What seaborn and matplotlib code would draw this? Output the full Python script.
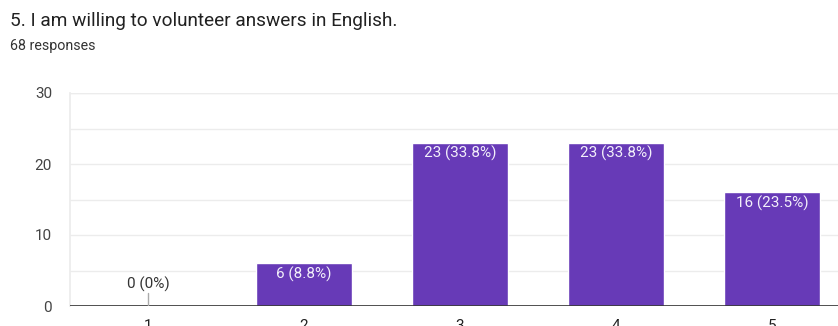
import matplotlib
matplotlib.use("Agg")
import matplotlib.pyplot as plt
import seaborn as sns
import pandas as pd

# Survey results
categories = ["1", "2", "3", "4", "5"]
counts = [0, 6, 23, 23, 16]
percents = ["0%", "8.8%", "33.8%", "33.8%", "23.5%"]
title = "5. I am willing to volunteer answers in English."
subtitle = "68 responses"
y_ticks = [0, 10, 20, 30]

sns.set_theme(style="white")
plt.rcParams["font.family"] = ["Roboto", "DejaVu Sans"]

df = pd.DataFrame({"option": categories, "count": counts})

W, H = 838, 326
fig = plt.figure(figsize=(W / 100, H / 100), dpi=100)
ax = fig.add_axes([70 / W, 20 / H, 780 / W, 213 / H])

sns.barplot(data=df, x="option", y="count", color="#673ab7", width=0.62,
            saturation=1, ax=ax, zorder=3)

ax.set_xlim(-0.5, 4.5)
ax.set_ylim(0, 30)
ax.set_yticks(y_ticks)
ax.set_yticks([5, 15, 25], minor=True)
ax.grid(axis="y", which="both", color="#ececec", linewidth=1, zorder=0)
for s in ["top", "right", "bottom"]:
    ax.spines[s].set_visible(False)
ax.spines["left"].set_color("#ececec")
ax.axhline(0, color="#333333", linewidth=1.2, zorder=4)
ax.axhline(30, color="#ececec", linewidth=1, zorder=1)

ax.set_xlabel("")
ax.set_ylabel("")
ax.tick_params(axis="y", which="both", length=0, pad=13, labelsize=11, labelcolor="#444444")
ax.tick_params(axis="x", length=0, pad=9, labelsize=11, labelcolor="#222222")

# Value labels
for i, (c, p) in enumerate(zip(counts, percents)):
    label = f"{c} ({p})"
    if c == 0:
        ax.plot([i, i], [0, 1.8], color="#aaaaaa", linewidth=1, zorder=5)
        ax.text(i, 2.0, label, ha="center", va="bottom", fontsize=11, color="#333333")
    else:
        ax.text(i, c - 0.4, label, ha="center", va="top", fontsize=11, color="#f2effa", zorder=6)

fig.text(10 / W, 1 - 21 / H, title, ha="left", va="center", fontsize=13.7, color="#212121")
fig.text(10 / W, 1 - 46 / H, subtitle, ha="left", va="center", fontsize=10.3, color="#333333")

fig.savefig("out.png", dpi=100, facecolor="white")
